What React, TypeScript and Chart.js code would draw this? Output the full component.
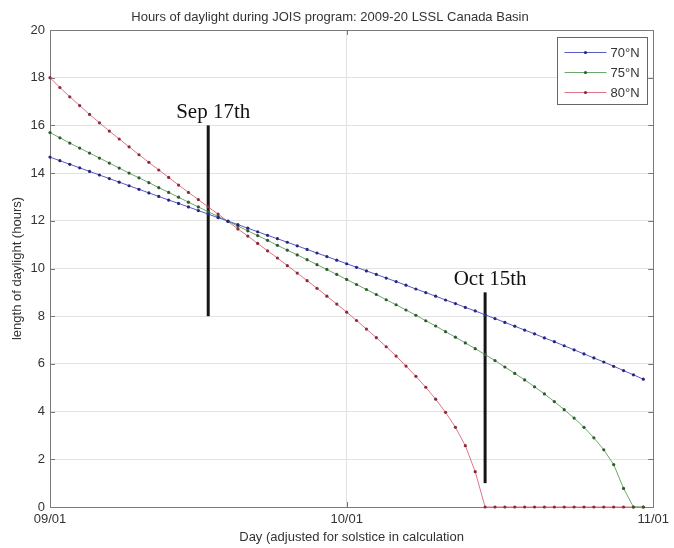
import React, { useEffect, useRef } from 'react';
import { Chart, registerables } from 'chart.js';

Chart.register(...registerables);

const TITLE = 'Hours of daylight during JOIS program: 2009-20 LSSL Canada Basin';
const X_TITLE = 'Day (adjusted for solstice in calculation';
const Y_TITLE = 'length of daylight (hours)';

// x = days since 09/01
const X_TICK_DAYS = [0, 30, 61];
const X_TICK_LABELS = ['09/01', '10/01', '11/01'];

const SERIES_NAMES = ['70°N', '75°N', '80°N'];

// one value per day, 09/01 .. 10/31
const LAT70 = [
  14.67, 14.52, 14.37, 14.22, 14.07, 13.92, 13.77, 13.62, 13.47, 13.32,
  13.17, 13.02, 12.87, 12.73, 12.58, 12.43, 12.28, 12.13, 11.99, 11.84,
  11.69, 11.54, 11.39, 11.25, 11.10, 10.95, 10.80, 10.65, 10.50, 10.35,
  10.20, 10.05, 9.90, 9.75, 9.60, 9.45, 9.30, 9.14, 8.99, 8.84,
  8.68, 8.53, 8.37, 8.22, 8.06, 7.90, 7.74, 7.58, 7.42, 7.26,
  7.09, 6.93, 6.76, 6.59, 6.42, 6.25, 6.08, 5.90, 5.72, 5.54,
  5.36,
];
const LAT75 = [
  15.70, 15.48, 15.26, 15.05, 14.84, 14.63, 14.42, 14.21, 14.00, 13.80,
  13.60, 13.39, 13.19, 12.99, 12.78, 12.58, 12.38, 12.18, 11.98, 11.78,
  11.58, 11.38, 11.18, 10.97, 10.77, 10.57, 10.37, 10.16, 9.96, 9.75,
  9.54, 9.33, 9.12, 8.91, 8.69, 8.48, 8.26, 8.04, 7.81, 7.59,
  7.35, 7.12, 6.88, 6.64, 6.39, 6.14, 5.87, 5.60, 5.33, 5.04,
  4.74, 4.42, 4.08, 3.73, 3.34, 2.90, 2.40, 1.78, 0.78, 0,
  0,
];
const LAT80 = [
  18.00, 17.59, 17.20, 16.83, 16.46, 16.11, 15.76, 15.43, 15.10, 14.77,
  14.45, 14.13, 13.82, 13.50, 13.19, 12.89, 12.58, 12.28, 11.97, 11.66,
  11.36, 11.05, 10.74, 10.44, 10.12, 9.81, 9.49, 9.17, 8.84, 8.51,
  8.17, 7.82, 7.46, 7.10, 6.72, 6.33, 5.91, 5.48, 5.02, 4.52,
  3.97, 3.34, 2.57, 1.48, 0, 0, 0, 0, 0, 0,
  0, 0, 0, 0, 0, 0, 0, 0, 0, 0,
  0,
];

const MARKER_LABELS = ['Sep 17th', 'Oct 15th'];
const MARKER_DAYS = [16, 44];
const MARKER_FROM = [8, 1];
const MARKER_TO = [16, 9];

const LINE_COLORS = ['#5a5ac8', '#6fa86f', '#e07585'];
const POINT_COLORS = ['#26267a', '#2e5a2e', '#8a2a3a'];
const TEXT = '#333333';
const FONT = "'Liberation Sans', Arial, Helvetica, sans-serif";

const toXY = (arr: number[]) => arr.map((y, i) => ({ x: i, y }));

const decorPlugin = {
  id: 'decor',
  beforeDatasetsDraw(chart: any) {
    const { ctx, chartArea: a, scales } = chart;
    ctx.save();
    // inward ticks
    ctx.strokeStyle = '#777';
    ctx.lineWidth = 1;
    ctx.beginPath();
    scales.y.ticks.forEach((t: any) => {
      const y = Math.round(scales.y.getPixelForValue(t.value)) + 0.5;
      ctx.moveTo(a.left, y);
      ctx.lineTo(a.left + 5, y);
      ctx.moveTo(a.right, y);
      ctx.lineTo(a.right - 5, y);
    });
    scales.x.ticks.forEach((t: any) => {
      const x = Math.round(scales.x.getPixelForValue(t.value)) + 0.5;
      ctx.moveTo(x, a.bottom);
      ctx.lineTo(x, a.bottom - 5);
      ctx.moveTo(x, a.top);
      ctx.lineTo(x, a.top + 5);
    });
    ctx.stroke();
    // frame
    ctx.strokeStyle = '#7a7a7a';
    ctx.strokeRect(Math.round(a.left) + 0.5, Math.round(a.top) + 0.5,
      Math.round(a.right - a.left), Math.round(a.bottom - a.top));
    ctx.restore();
  },
  afterDraw(chart: any) {
    const { ctx, chartArea: a, scales } = chart;
    ctx.save();
    // annotation labels
    ctx.fillStyle = '#111';
    ctx.font = "21px 'Liberation Serif', 'Times New Roman', serif";
    ctx.textAlign = 'center';
    ctx.textBaseline = 'alphabetic';
    MARKER_LABELS.forEach((lab, i) => {
      const x = scales.x.getPixelForValue(MARKER_DAYS[i]);
      const y = scales.y.getPixelForValue(MARKER_TO[i]);
      ctx.fillText(lab, x + 5, y - 7);
    });
    // legend
    const bw = 90;
    const bh = 67;
    const bx = Math.round(a.right - 6 - bw) + 0.5;
    const by = Math.round(a.top + 7) + 0.5;
    ctx.fillStyle = '#fff';
    ctx.fillRect(bx, by, bw, bh);
    ctx.strokeStyle = '#666';
    ctx.lineWidth = 1;
    ctx.strokeRect(bx, by, bw, bh);
    ctx.font = `13px ${FONT}`;
    ctx.textAlign = 'left';
    ctx.textBaseline = 'middle';
    SERIES_NAMES.forEach((name, i) => {
      const y = Math.round(by + 14.5 + i * 20) + 0.5;
      ctx.strokeStyle = LINE_COLORS[i];
      ctx.beginPath();
      ctx.moveTo(bx + 7, y);
      ctx.lineTo(bx + 49, y);
      ctx.stroke();
      ctx.fillStyle = POINT_COLORS[i];
      ctx.beginPath();
      ctx.arc(bx + 28, y, 1.6, 0, Math.PI * 2);
      ctx.fill();
      ctx.fillStyle = TEXT;
      ctx.fillText(name, bx + 53, y + 1);
    });
    ctx.restore();
  },
};

export default function App() {
  const ref = useRef<HTMLCanvasElement>(null);

  useEffect(() => {
    const canvas = ref.current;
    if (!canvas) return;
    Chart.defaults.font.family = FONT;

    const seriesData = [LAT70, LAT75, LAT80];
    const datasets: any[] = seriesData.map((arr, i) => ({
      label: SERIES_NAMES[i],
      data: toXY(arr),
      borderColor: LINE_COLORS[i],
      borderWidth: 1,
      pointRadius: 1.6,
      pointBorderWidth: 0,
      pointBackgroundColor: POINT_COLORS[i],
      pointBorderColor: POINT_COLORS[i],
      tension: 0,
      clip: false,
    }));
    MARKER_DAYS.forEach((d, i) => {
      datasets.push({
        label: MARKER_LABELS[i],
        data: [
          { x: d, y: MARKER_FROM[i] },
          { x: d, y: MARKER_TO[i] },
        ],
        borderColor: '#151515',
        borderWidth: 3,
        pointRadius: 0,
        borderCapStyle: 'butt',
        clip: false,
      });
    });

    const chart = new Chart(canvas, {
      type: 'line',
      data: { datasets },
      options: {
        responsive: false,
        animation: false,
        devicePixelRatio: 1,
        events: [],
        layout: { padding: { left: 0, right: 14, top: 0, bottom: 0 } },
        plugins: {
          legend: { display: false },
          tooltip: { enabled: false },
          title: {
            display: true,
            text: TITLE,
            color: TEXT,
            font: { size: 13, weight: 'normal', family: FONT },
            padding: { top: 10, bottom: 4.4 },
          },
        },
        scales: {
          x: {
            type: 'linear',
            min: 0,
            max: 61,
            afterBuildTicks: (s: any) => {
              s.ticks = X_TICK_DAYS.map((v) => ({ value: v }));
            },
            afterFit: (s: any) => {
              s.height = 41;
            },
            ticks: {
              autoSkip: false,
              maxRotation: 0,
              padding: 5,
              color: TEXT,
              font: { size: 13 },
              callback: (v: any) => {
                const k = X_TICK_DAYS.indexOf(Number(v));
                return k >= 0 ? X_TICK_LABELS[k] : '';
              },
            },
            grid: { color: '#e2e2e2', drawTicks: false },
            border: { display: false },
            title: {
              display: true,
              text: X_TITLE,
              color: TEXT,
              font: { size: 13 },
              padding: { top: 0, bottom: 3 },
            },
          },
          y: {
            min: 0,
            max: 20,
            afterFit: (s: any) => {
              s.width = 50;
            },
            ticks: {
              stepSize: 2,
              padding: 5,
              color: TEXT,
              font: { size: 13 },
            },
            grid: { color: '#e2e2e2', drawTicks: false },
            border: { display: false },
            title: {
              display: true,
              text: Y_TITLE,
              color: TEXT,
              font: { size: 13 },
              padding: { top: 10, bottom: 0 },
            },
          },
        },
      } as any,
      plugins: [decorPlugin],
    });

    return () => chart.destroy();
  }, []);

  return (
    <div style={{ position: 'fixed', left: 0, top: 0, width: 674, height: 548, background: '#fff' }}>
      <canvas ref={ref} width={674} height={548} style={{ display: 'block' }} />
    </div>
  );
}
